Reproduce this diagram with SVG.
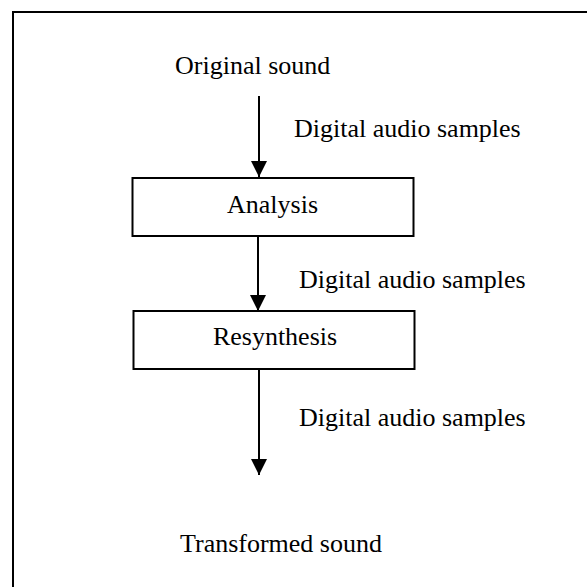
<svg xmlns="http://www.w3.org/2000/svg" width="587" height="587" viewBox="0 0 587 587">
<defs>
<style>
text{font-family:"Liberation Serif","Times New Roman",serif;font-size:26px;fill:#000}
.box{fill:#fff;stroke:#000;stroke-width:2}
.frame{fill:none;stroke:#000;stroke-width:2}
.conn{stroke:#000;stroke-width:2;fill:none}
</style>
<marker id="arr" markerWidth="16" markerHeight="16" viewBox="0 0 16 16" refX="16" refY="8" orient="auto" markerUnits="userSpaceOnUse">
<path d="M0,0 L16,8 L0,16 Z" fill="#000"/>
</marker>
</defs>
<rect width="587" height="587" fill="#fff"/>
<path class="frame" d="M13,588 L13,12 L588,12"/>
<g id="connectors">
<line class="conn" x1="259" y1="96" x2="259" y2="177" marker-end="url(#arr)"/>
<line class="conn" x1="258" y1="236" x2="258" y2="311" marker-end="url(#arr)"/>
<line class="conn" x1="259" y1="369" x2="259" y2="475" marker-end="url(#arr)"/>
</g>
<g id="original">
<text x="175" y="74">Original sound</text>
</g>
<g id="label1"><text x="294" y="137">Digital audio samples</text></g>
<g id="analysis">
<rect class="box" x="132.5" y="178" width="281" height="58"/>
<text x="272.5" y="213" text-anchor="middle">Analysis</text>
</g>
<g id="label2"><text x="299" y="288">Digital audio samples</text></g>
<g id="resynthesis">
<rect class="box" x="133.5" y="311" width="281" height="58"/>
<text x="275" y="345" text-anchor="middle">Resynthesis</text>
</g>
<g id="label3"><text x="299" y="426">Digital audio samples</text></g>
<g id="transformed">
<text x="180" y="552">Transformed sound</text>
</g>
</svg>
